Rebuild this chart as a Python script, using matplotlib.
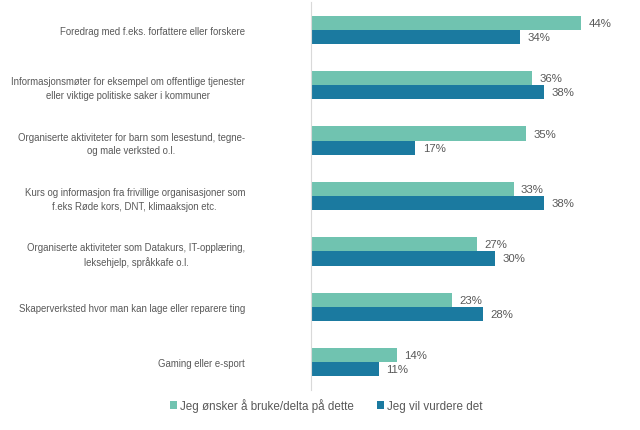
import numpy as np
import matplotlib.pyplot as plt

plt.rcParams['font.family'] = ['Liberation Sans', 'DejaVu Sans']

categories = [
    "Foredrag med f.eks. forfattere eller forskere",
    "Informasjonsmøter for eksempel om offentlige tjenester\neller viktige politiske saker i kommuner",
    "Organiserte aktiviteter for barn som lesestund, tegne-\nog male verksted o.l.",
    "Kurs og informasjon fra frivillige organisasjoner som\nf.eks Røde kors, DNT, klimaaksjon etc.",
    "Organiserte aktiviteter som Datakurs, IT-opplæring,\nleksehjelp, språkkafe o.l.",
    "Skaperverksted hvor man kan lage eller reparere ting",
    "Gaming eller e-sport",
]
onsker = [44, 36, 35, 33, 27, 23, 14]
vurdere = [34, 38, 17, 38, 30, 28, 11]
series_names = ["Jeg ønsker å bruke/delta på dette", "Jeg vil vurdere det"]

c_light = '#70c3b0'
c_dark = '#1b7aa0'
grey = '#595959'

fig = plt.figure(figsize=(6.4, 4.31), dpi=100)
ax = fig.add_axes([311 / 640, 40 / 431, 1 - 311 / 640, 388 / 431])

y = np.arange(len(categories))
h = 0.255
b1 = ax.barh(y - h / 2, onsker, height=h, color=c_light, label=series_names[0])
b2 = ax.barh(y + h / 2, vurdere, height=h, color=c_dark, label=series_names[1])

for bars, vals in [(b1, onsker), (b2, vurdere)]:
    for bar, v in zip(bars, vals):
        ax.text(v + 1.2, bar.get_y() + bar.get_height() / 2, f"{v}%",
                va='center', ha='left', fontsize=8.2, color=grey)

ax.set_xlim(0, 53.6)
ax.set_ylim(len(categories) - 0.5, -0.5)
ax.set_yticks(y)
ax.set_yticklabels(categories, fontsize=6.95, color=grey,
                   multialignment='center', linespacing=1.45)
ax.tick_params(axis='y', length=0, pad=47.5)
ax.set_xticks([])
for s in ['top', 'right', 'bottom']:
    ax.spines[s].set_visible(False)
ax.spines['left'].set_color('#d9d9d9')
ax.spines['left'].set_linewidth(0.8)

fig.legend(handles=[b1, b2], labels=series_names, loc='center', ncol=2,
           bbox_to_anchor=(0.51, 25 / 431), frameon=False, fontsize=8.4,
           labelcolor=grey, handlelength=0.6, handleheight=0.6,
           handletextpad=0.25, columnspacing=2.0)

fig.savefig('out.png', dpi=100)
